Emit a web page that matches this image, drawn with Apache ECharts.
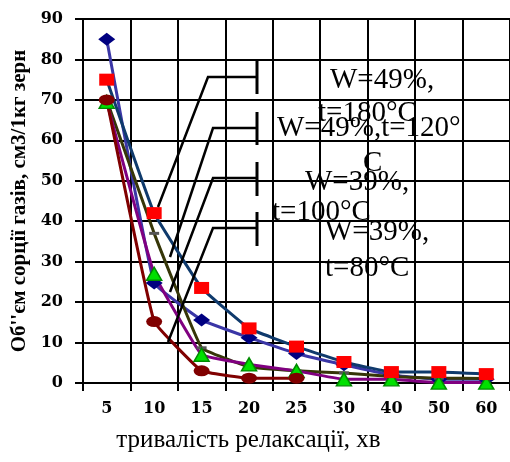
<!DOCTYPE html>
<html>
<head>
<meta charset="utf-8">
<script src="https://cdn.jsdelivr.net/npm/echarts@6/dist/echarts.min.js"></script>
<style>html,body{margin:0;padding:0;background:#fff}#c{width:510px;height:462px}</style>
</head>
<body>
<div id="c"></div>
<script>
var categories = ['5', '10', '15', '20', '25', '30', '40', '50', '60'];
var seriesDiamond = [85, 24.7, 15.6, 11.2, 7.3, 4.5, 2, 0.9, 0.9];
var seriesOlive = [70, 37, 8.7, 4, 3, 2.5, 1.6, 1.2, 1.1];
var seriesTriangle = [69.5, 27, 7, 4.6, 3, 0.9, 0.9, 0.1, 0.1];
var seriesCircle = [70, 15.2, 3, 1.2, 1.2, null, null, null, null];
var seriesSquare = [75, 42, 23.5, 13.5, 9, 5.2, 2.7, 2.7, 2.2];
var yTicks = { min: 0, max: 90, interval: 10 };
var labels = [
  { text: 'W=49%,', x: 330, y: 80 },
  { text: 't=180°C', x: 318, y: 113 },
  { text: 'W=49%,t=120°', x: 277, y: 128 },
  { text: 'C', x: 363, y: 163 },
  { text: 'W=39%,', x: 305, y: 182 },
  { text: 't=100°C', x: 272, y: 212 },
  { text: 'W=39%,', x: 325, y: 232 },
  { text: 't=80°C', x: 325, y: 268 }
];

var chart = echarts.init(document.getElementById('c'));
var numFont = { fontFamily: 'DejaVu Serif', fontWeight: 'bold', fontSize: 16, color: '#000' };

function mkSeries(name, data, color, symbol, symbolSize, itemColor, borderColor) {
  return {
    name: name, type: 'line', data: data, smooth: 0.08,
    symbol: symbol, symbolSize: symbolSize, showSymbol: symbol !== 'none',
    connectNulls: false,
    lineStyle: { color: color, width: 3 },
    itemStyle: { color: itemColor, borderColor: borderColor || itemColor, borderWidth: borderColor ? 1.5 : 0 },
    emphasis: { disabled: true },
    animation: false
  };
}

var graphics = [];
var callouts = [
  { bar: [60, 94], y: 77, x2: 208, ex: 158, ey: 207 },
  { bar: [112, 145], y: 128, x2: 213, ex: 170, ey: 257 },
  { bar: [162, 196], y: 178, x2: 213, ex: 170, ey: 292 },
  { bar: [212, 246], y: 228, x2: 213, ex: 168, ey: 342 }
];
callouts.forEach(function (c) {
  graphics.push({ type: 'line', z: 100, shape: { x1: 257, y1: c.bar[0], x2: 257, y2: c.bar[1] }, style: { stroke: '#000', lineWidth: 3 } });
  graphics.push({ type: 'polyline', z: 100, shape: { points: [[257, c.y], [c.x2, c.y], [c.ex, c.ey]] }, style: { stroke: '#000', lineWidth: 2.5, fill: null } });
});
labels.forEach(function (l) {
  graphics.push({ type: 'text', z: 101, x: l.x, y: l.y, style: { text: l.text, fontFamily: 'Liberation Serif', fontSize: 29, fill: '#000', textAlign: 'left', textVerticalAlign: 'middle' } });
});

chart.setOption({
  backgroundColor: '#fff',
  animation: false,
  grid: { left: 83, top: 19, right: 0, bottom: 79, containLabel: false },
  xAxis: {
    type: 'category', data: categories, boundaryGap: true,
    name: 'тривалість релаксації, хв', nameLocation: 'middle', nameGap: 45,
    nameTextStyle: { fontFamily: 'Liberation Serif', fontSize: 25, color: '#000', padding: [0, 96, 0, 0] },
    axisLine: { lineStyle: { color: '#000', width: 2 } },
    axisTick: { show: true, length: 8, lineStyle: { color: '#000', width: 2 } },
    axisLabel: Object.assign({ margin: 18 }, numFont),
    splitLine: { show: true, lineStyle: { color: '#000', width: 2 } }
  },
  yAxis: {
    type: 'value', min: yTicks.min, max: yTicks.max, interval: yTicks.interval,
    name: "Об''єм сорції газів, см3/1кг зерн", nameLocation: 'middle', nameGap: 50, nameRotate: 90,
    nameTextStyle: { fontFamily: 'Liberation Serif', fontWeight: 'bold', fontSize: 21, color: '#000' },
    axisLine: { show: true, lineStyle: { color: '#000', width: 2 } },
    axisTick: { show: true, length: 8, lineStyle: { color: '#000', width: 2 } },
    axisLabel: Object.assign({ margin: 20 }, numFont),
    splitLine: { show: true, lineStyle: { color: '#000', width: 2 } }
  },
  series: [
    mkSeries('W=49%, t=120°C', seriesDiamond, '#3a36a6', 'diamond', [17, 13], '#000080'),
    mkSeries('olive', seriesOlive, '#363608', 'rect', [10, 3], '#555555'),
    mkSeries('W=39%, t=100°C', seriesTriangle, '#800080', 'triangle', [15, 13], '#00e000', '#008a00'),
    mkSeries('W=39%, t=80°C', seriesCircle, '#800000', 'circle', [16, 11], '#800000'),
    mkSeries('W=49%, t=180°C', seriesSquare, '#0f3a6c', 'rect', [15, 12], '#ff0000')
  ],
  graphic: graphics
});
</script>
</body>
</html>
